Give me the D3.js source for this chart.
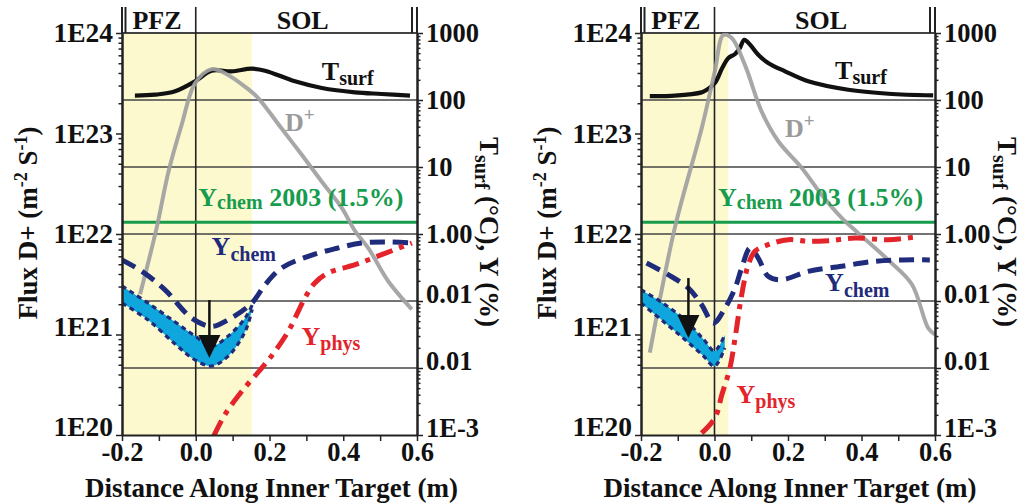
<!DOCTYPE html>
<html><head><meta charset="utf-8">
<script src="https://cdn.jsdelivr.net/npm/d3@7"></script>
<style>body{margin:0;background:#fff}svg{display:block}</style>
</head><body><svg id="c" width="1028" height="504"></svg>
<script>
// ---------- DATA ----------
const xTickVals = [-0.2,-0.1,0.0,0.1,0.2,0.3,0.4,0.5,0.6];
const xMajor = [-0.2,0.0,0.2,0.4,0.6];
const xMajorLabels = ["-0.2","0.0","0.2","0.4","0.6"];
const fluxTicks = [1e20,1e21,1e22,1e23,1e24];
const fluxTickLabels = ["1E20","1E21","1E22","1E23","1E24"];
const rightTicks = [1e3,1e2,1e1,1,0.1,0.01,0.001];
const rightTickLabels = ["1000","100","10","1.00","0.01","0.01","1E-3"];
const gridPct = [100,10,1,0.1,0.01];
const ychem2003 = 1.5; // %

// Left panel
const pfzEndL = 0.152;
const tsurfX_L = [-0.165,-0.110,-0.056,-0.002,0.043,0.097,0.152,0.188,0.269,0.342,0.432,0.504,0.581];
const tsurf_L  = [116,120,135,190,274,268,293,274,190,151,130,123,116];
const dX_L = [-0.151,-0.106,-0.074,-0.038,-0.002,0.043,0.079,0.143,0.170,0.233,0.287,0.342,0.396,0.432,0.468,0.522,0.586];
const dFlux_L = [2.51e21,1.15e22,4.17e22,1.23e23,3.16e23,4.37e23,3.98e23,2.75e23,2.24e23,1.12e23,6.17e22,3.31e22,1.82e22,1.07e22,7.24e21,3.39e21,1.78e21];
const ychemX_L = [-0.2,-0.146,-0.084,-0.011,0.043,0.088,0.152,0.188,0.233,0.305,0.378,0.450,0.522,0.586];
const ychem_L  = [0.41,0.277,0.148,0.0557,0.0419,0.0526,0.093,0.175,0.311,0.464,0.604,0.735,0.76,0.735];
const yphysX_L = [0.049,0.079,0.125,0.179,0.215,0.251,0.278,0.296,0.323,0.359,0.432,0.504,0.586];
const yphys_L  = [0.00097,0.00201,0.00449,0.010,0.0178,0.0353,0.0702,0.111,0.186,0.262,0.348,0.491,0.735];
const bandX_L  = [-0.2,-0.129,-0.056,-0.002,0.043,0.088,0.134,0.153];
const bandHi_L = [0.168,0.093,0.0486,0.030,0.0213,0.030,0.0557,0.087];
const bandLo_L = [0.093,0.052,0.0228,0.0132,0.0107,0.015,0.035,0.075];
const arrow_L = [0.037,0.1036,0.0141]; // x, top(%), tip(%)

// Right panel
const pfzEndR = 0.0376;
const tsurfX_R = [-0.176,-0.108,-0.035,-0.021,0.001,0.021,0.038,0.056,0.069,0.081,0.097,0.119,0.146,0.192,0.255,0.364,0.473,0.595];
const tsurf_R  = [114,116,130,142,179,300,424,486,597,790,669,474,357,268,190,142,124,117];
const dX_R = [-0.176,-0.108,-0.035,0.001,0.024,0.047,0.083,0.128,0.174,0.237,0.292,0.346,0.391,0.473,0.537,0.582,0.6];
const dFlux_R = [6.6e20,1.15e22,1.12e23,4.17e23,9.55e23,8.91e23,4.79e23,1.66e23,8.32e22,4.57e22,2.45e22,1.45e22,1.02e22,5.5e21,3.16e21,1.15e21,1.0e21];
const ychemX_R = [-0.185,-0.126,-0.071,-0.035,-0.003,0.029,0.056,0.074,0.097,0.119,0.146,0.183,0.255,0.346,0.437,0.509,0.586];
const ychem_R  = [0.369,0.247,0.156,0.088,0.047,0.0787,0.156,0.311,0.618,0.438,0.234,0.208,0.277,0.33,0.392,0.41,0.41];
const yphysX_R = [-0.035,0.001,0.020,0.042,0.056,0.074,0.092,0.110,0.146,0.201,0.255,0.310,0.382,0.473,0.559];
const yphys_R  = [0.00107,0.00179,0.00399,0.010,0.028,0.124,0.348,0.552,0.692,0.822,0.778,0.795,0.871,0.822,0.924];
const bandX_R  = [-0.2,-0.14,-0.08,-0.03,0.0,0.028];
const bandHi_R = [0.1475,0.0925,0.0519,0.0269,0.018,0.0314];
const bandLo_R = [0.093,0.050,0.0264,0.0151,0.0106,0.0199];
const arrow_R = [-0.071,0.22,0.028];

// ---------- DRAW ----------
const FONT = '"Liberation Serif","Times New Roman",serif';
const svg = d3.select("#c");
const yTop = 33, yBot = 435, hdrTop = 7;
const yFlux = d3.scaleLog().domain([1e20,1e24]).range([yBot,yTop]);
const yPct  = d3.scaleLog().domain([1e-3,1e3]).range([yBot,yTop]);

const C = {navy:"#1f2b7b", red:"#e3242b", green:"#179c4d", gray:"#a0a0a0", cyan:"#0ea6dc", yellow:"#fdf9cf", grid:"#444"};

const panels = [
 {xr:[122,417], pfz:pfzEndL, tsX:tsurfX_L, ts:tsurf_L, dX:dX_L, d:dFlux_L, cX:ychemX_L, c:ychem_L, pX:yphysX_L, p:yphys_L,
  bX:bandX_L, bH:bandHi_L, bL:bandLo_L, arrow:arrow_L,
  lab:{ts:[0.342,3.4e23], dp:[0.242,1.07e23], gr:[0.007,1.9e22], ch:[0.043,6.2e21], ph:[0.287,7.9e20]}},
 {xr:[641,935], pfz:pfzEndR, tsX:tsurfX_R, ts:tsurf_R, dX:dX_R, d:dFlux_R, cX:ychemX_R, c:ychem_R, pX:yphysX_R, p:yphys_R,
  bX:bandX_R, bH:bandHi_R, bL:bandLo_R, arrow:arrow_R,
  lab:{ts:[0.328,3.45e23], dp:[0.192,9.3e22], gr:[0.0095,1.9e22], ch:[0.301,2.7e21], ph:[0.060,2.1e20]}}
];

function label(g, x, y, parts, fill){
  const t = g.append("text").attr("x",x).attr("y",y).attr("fill",fill)
    .attr("font-family",FONT).attr("font-weight","bold").attr("font-size",26);
  parts.forEach(p=>{
    const s = t.append("tspan").text(p.t);
    if(p.size) s.attr("font-size",p.size);
    if(p.dy) s.attr("dy",p.dy);
  });
  return t;
}

function styleAxis(a, fs){
  a.attr("font-family",FONT).attr("font-size",fs||26).attr("font-weight","bold");
  a.selectAll("path").attr("stroke","#222").attr("stroke-width",2);
  a.selectAll("line").attr("stroke","#222").attr("stroke-width",1.5);
  a.selectAll("text").attr("fill","#111");
}

panels.forEach((P,i)=>{
  const x = d3.scaleLinear().domain([-0.2,0.6]).range(P.xr);
  const g = svg.append("g");
  const cid = "clip"+i;
  g.append("clipPath").attr("id",cid).append("rect")
    .attr("x",x(-0.2)).attr("y",yTop).attr("width",x(0.6)-x(-0.2)).attr("height",yBot-yTop);
  // PFZ shading
  g.append("rect").attr("x",x(-0.2)).attr("y",yTop).attr("width",x(P.pfz)-x(-0.2)).attr("height",yBot-yTop).attr("fill",C.yellow);
  // gridlines
  g.selectAll(".gr").data(gridPct).join("line")
    .attr("x1",x(-0.2)).attr("x2",x(0.6)).attr("y1",d=>yPct(d)).attr("y2",d=>yPct(d))
    .attr("stroke",C.grid).attr("stroke-width",1.3);
  g.append("line").attr("x1",x(-0.2)).attr("x2",x(0.6)).attr("y1",yTop).attr("y2",yTop).attr("stroke",C.grid).attr("stroke-width",2);
  // zero line
  g.append("line").attr("x1",x(0)).attr("x2",x(0)).attr("y1",hdrTop).attr("y2",yBot).attr("stroke","#222").attr("stroke-width",1.6);
  // header lines
  [x(-0.2), x(-0.2)+3.5, x(0.6)-5, x(0.6)].forEach(xx=>{
    g.append("line").attr("x1",xx).attr("x2",xx).attr("y1",hdrTop).attr("y2",yTop).attr("stroke","#222").attr("stroke-width",2);
  });
  label(g, x(-0.105), 29, [{t:"PFZ"}], "#111").attr("text-anchor","middle");
  label(g, x(0.29), 29, [{t:"SOL"}], "#111").attr("text-anchor","middle");

  const cg = g.append("g").attr("clip-path",`url(#${cid})`);
  // green 2003 line
  cg.append("line").attr("x1",x(-0.2)).attr("x2",x(0.6)).attr("y1",yPct(ychem2003)).attr("y2",yPct(ychem2003))
    .attr("stroke",C.green).attr("stroke-width",3);
  const lineP = (xs,ys,ysc)=> d3.line().x((d,k)=>x(xs[k])).y(d=>ysc(d)).curve(d3.curveCatmullRom.alpha(0.5))(ys);
  // Tsurf
  cg.append("path").attr("d",lineP(P.tsX,P.ts,yPct)).attr("fill","none").attr("stroke","#111").attr("stroke-width",4.2).attr("stroke-linejoin","round");
  // D+
  cg.append("path").attr("d",lineP(P.dX,P.d,yFlux)).attr("fill","none").attr("stroke",C.gray).attr("stroke-opacity",0.92).attr("stroke-width",4).attr("stroke-linejoin","round");
  // band
  const area = d3.area().x((d,k)=>x(P.bX[k])).y0((d,k)=>yPct(P.bL[k])).y1(d=>yPct(d)).curve(d3.curveCatmullRom.alpha(0.5));
  cg.append("path").attr("d",area(P.bH)).attr("fill",C.cyan);
  [P.bH,P.bL].forEach(arr=>{
    cg.append("path").attr("d",lineP(P.bX,arr,yPct)).attr("fill","none").attr("stroke",C.navy).attr("stroke-width",3.2).attr("stroke-dasharray","5,4");
  });
  // Ychem
  cg.append("path").attr("d",lineP(P.cX,P.c,yPct)).attr("fill","none").attr("stroke",C.navy).attr("stroke-width",5).attr("stroke-dasharray","15,8");
  // Yphys
  cg.append("path").attr("d",lineP(P.pX,P.p,yPct)).attr("fill","none").attr("stroke",C.red).attr("stroke-width",5).attr("stroke-dasharray","17,7,5,7");
  // arrow
  const ax = x(P.arrow[0]), aTop = yPct(P.arrow[1]), aTip = yPct(P.arrow[2]);
  g.append("line").attr("x1",ax).attr("x2",ax).attr("y1",aTop).attr("y2",aTip-20).attr("stroke","#111").attr("stroke-width",2.5);
  g.append("path").attr("d",`M${ax-11},${aTip-23}L${ax+11},${aTip-23}L${ax},${aTip}Z`).attr("fill","#111");

  // labels
  const L = P.lab;
  label(g, x(L.ts[0]), yFlux(L.ts[1]), [{t:"T"},{t:"surf",size:20,dy:5}], "#111");
  label(g, x(L.dp[0]), yFlux(L.dp[1]), [{t:"D"},{t:"+",size:19,dy:-10}], "#9a9a9a");
  label(g, x(L.gr[0]), yFlux(L.gr[1]), [{t:"Y"},{t:"chem",size:20,dy:3},{t:" 2003 (1.5%)",dy:-3}], C.green);
  label(g, x(L.ch[0]), yFlux(L.ch[1]), [{t:"Y"},{t:"chem",size:20,dy:6}], C.navy);
  label(g, x(L.ph[0]), yFlux(L.ph[1]), [{t:"Y"},{t:"phys",size:20,dy:5}], C.red);

  // axes
  const minorFlux = [];
  [1e20,1e21,1e22,1e23].forEach(b=>{for(let k=2;k<10;k++) minorFlux.push(b*k);});
  const minorPct = [];
  [1e-3,1e-2,1e-1,1,10,100].forEach(b=>{for(let k=2;k<10;k++) minorPct.push(b*k);});

  const la = g.append("g").attr("transform",`translate(${x(-0.2)},0)`)
    .call(d3.axisLeft(yFlux).tickValues(fluxTicks).tickFormat((d,k)=>fluxTickLabels[k]).tickSize(6).tickPadding(3).tickSizeOuter(0));
  styleAxis(la, 27.5);
  la.selectAll(".tick text").attr("dy",d=> d<=1e21 ? "0.02em" : "0.32em");
  const lm = g.append("g").attr("transform",`translate(${x(-0.2)},0)`)
    .call(d3.axisLeft(yFlux).tickValues(minorFlux).tickFormat("").tickSize(3.5).tickSizeOuter(0));
  styleAxis(lm);
  const ra = g.append("g").attr("transform",`translate(${x(0.6)},0)`)
    .call(d3.axisRight(yPct).tickValues(rightTicks).tickFormat((d,k)=>rightTickLabels[k]).tickSize(6).tickPadding(3).tickSizeOuter(0));
  styleAxis(ra, 26.5);
  ra.selectAll(".tick text").attr("dy",d=> d<=0.1 ? "0.05em" : "0.32em");
  const rm = g.append("g").attr("transform",`translate(${x(0.6)},0)`)
    .call(d3.axisRight(yPct).tickValues(minorPct).tickFormat("").tickSize(3.5).tickSizeOuter(0));
  styleAxis(rm);
  const ba = g.append("g").attr("transform",`translate(0,${yBot})`)
    .call(d3.axisBottom(x).tickValues(xTickVals).tickSize(6).tickPadding(1).tickSizeOuter(0)
      .tickFormat(d=>{const k=xMajor.findIndex(v=>Math.abs(v-d)<1e-9); return k>=0?xMajorLabels[k]:"";}));
  styleAxis(ba, 26.5);

  // axis titles
  const lt = g.append("text").attr("transform",`translate(${x(-0.2)-85},223) rotate(-90)`)
    .attr("text-anchor","middle").attr("font-family",FONT).attr("font-weight","bold").attr("font-size",27).attr("fill","#111");
  lt.append("tspan").text("Flux D+ (m");
  lt.append("tspan").text("-2").attr("font-size",18).attr("dy",-10);
  lt.append("tspan").text(" S").attr("dy",10);
  lt.append("tspan").text("-1").attr("font-size",18).attr("dy",-10);
  lt.append("tspan").text(")").attr("dy",10);

  const rt = g.append("text").attr("transform",`translate(${x(0.6)+63},232) rotate(90)`)
    .attr("text-anchor","middle").attr("font-family",FONT).attr("font-weight","bold").attr("font-size",27).attr("fill","#111");
  rt.append("tspan").text("T");
  rt.append("tspan").text("surf").attr("font-size",20).attr("dy",5);
  rt.append("tspan").text(" (°C), Y (%)").attr("dy",-5);

  g.append("text").attr("x",(x(-0.2)+x(0.6))/2+2).attr("y",497).attr("text-anchor","middle")
    .attr("font-family",FONT).attr("font-weight","bold").attr("font-size",27).attr("fill","#111")
    .text("Distance Along Inner Target (m)");
});
</script></body></html>
